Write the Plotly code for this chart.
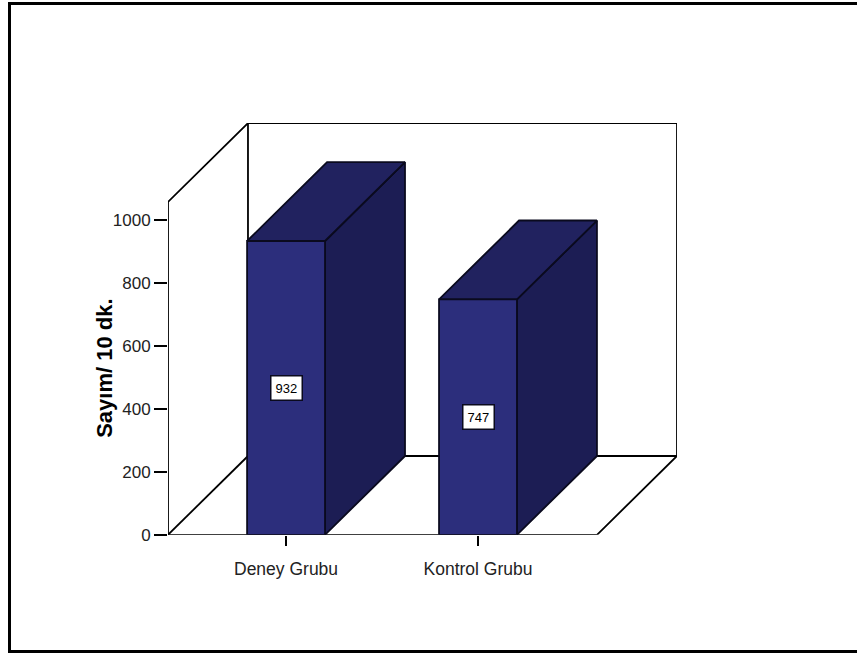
import plotly.graph_objects as go

# Data
categories = ["Deney Grubu", "Kontrol Grubu"]
counts = [932, 747]
y_ticks = [0, 200, 400, 600, 800, 1000]
y_title = "Sayım/ 10 dk."

# Canvas size
W, H = 857, 663

# 3D box geometry (in axis units)
X_LEFT = -0.615          # front-left edge of the floor
X_RIGHT = 1.62           # front-right edge of the floor
DEPTH_X = 80 / 192       # horizontal depth offset
DEPTH_Y = 250            # vertical depth offset
Y_TOP = 1056             # top of the front-left box edge
HALF_W = 0.203           # half bar width

FRONT = "#2c2e7c"
TOP = "#21225f"
SIDE = "#1c1d54"
EDGE = "#0a0a1e"
FONT = "Liberation Sans, Arial, sans-serif"
LW = 1.8

fig = go.Figure()


def seg(xs, ys):
    fig.add_trace(go.Scatter(x=xs, y=ys, mode="lines",
                             line=dict(color="black", width=LW),
                             hoverinfo="skip", showlegend=False))


# Box wireframe
xb = X_LEFT + DEPTH_X
xr = X_RIGHT + DEPTH_X
seg([X_LEFT, X_LEFT, xb, xr, xr], [0, Y_TOP, Y_TOP + DEPTH_Y, Y_TOP + DEPTH_Y, DEPTH_Y])
seg([xb, xb], [DEPTH_Y, Y_TOP + DEPTH_Y])
seg([xb, xr], [DEPTH_Y, DEPTH_Y])
seg([X_LEFT, X_RIGHT, xr], [0, 0, DEPTH_Y])
seg([X_LEFT, xb], [0, DEPTH_Y])


def face(xs, ys, color):
    fig.add_trace(go.Scatter(x=xs + [xs[0]], y=ys + [ys[0]], mode="lines",
                             fill="toself", fillcolor=color,
                             line=dict(color=EDGE, width=LW),
                             hoverinfo="skip", showlegend=False))


# Bars as prisms: side, top, front faces
for i, v in enumerate(counts):
    x0, x1 = i - HALF_W, i + HALF_W
    face([x1, x1 + DEPTH_X, x1 + DEPTH_X, x1], [0, DEPTH_Y, v + DEPTH_Y, v], SIDE)
    face([x0, x1, x1 + DEPTH_X, x0 + DEPTH_X], [v, v, v + DEPTH_Y, v + DEPTH_Y], TOP)
    face([x0, x1, x1, x0], [0, 0, v, v], FRONT)
    fig.add_annotation(x=i, y=v / 2, text=str(v), showarrow=False,
                       font=dict(family=FONT, size=13, color="black"),
                       bgcolor="white", bordercolor=EDGE, borderwidth=1.5,
                       borderpad=4)

# Axis title
fig.add_annotation(x=90 / W, y=1 - 374 / H, xref="paper", yref="paper",
                   text=f"<b>{y_title}</b>", textangle=-90, showarrow=False,
                   font=dict(family=FONT, size=22, color="black"))

# Outer frame
fig.add_shape(type="rect", xref="paper", yref="paper",
              x0=9.5 / W, x1=1.02, y0=1 - 661.5 / H, y1=1 - 3.5 / H,
              line=dict(color="black", width=3), fillcolor="rgba(0,0,0,0)")

fig.update_layout(
    width=W, height=H,
    margin=dict(l=0, r=0, t=0, b=0),
    paper_bgcolor="white", plot_bgcolor="white",
    showlegend=False,
    xaxis=dict(domain=[168 / W, 677 / W], range=[X_LEFT, X_RIGHT + DEPTH_X],
               tickvals=list(range(len(categories))), ticktext=categories,
               ticks="outside", ticklen=10, tickwidth=1.5, tickcolor="black",
               ticklabelstandoff=8,
               showgrid=False, zeroline=False, showline=False,
               tickfont=dict(family=FONT, size=17.5, color="#222")),
    yaxis=dict(domain=[1 - 543 / H, 1 - 125 / H], range=[0, Y_TOP + DEPTH_Y],
               tickvals=y_ticks, ticks="outside", ticklen=13, tickwidth=1.5,
               tickcolor="black", showgrid=False, zeroline=False, showline=False,
               tickfont=dict(family=FONT, size=17, color="#222")),
)

fig.write_html("out.html")
